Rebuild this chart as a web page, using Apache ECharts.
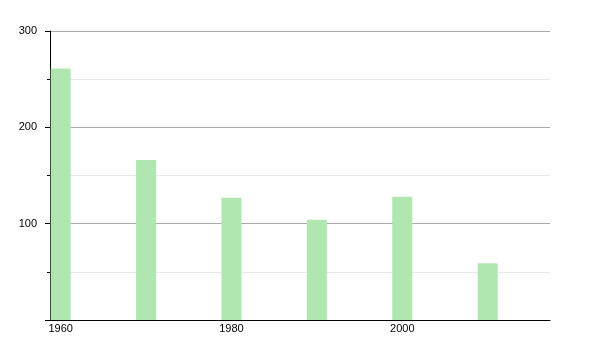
<!DOCTYPE html>
<html><head><meta charset="utf-8">
<script src="https://cdn.jsdelivr.net/npm/echarts@6/dist/echarts.min.js"></script>
<style>html,body{margin:0;padding:0;background:#fff}#c{width:600px;height:350px}</style>
</head><body><div id="c"></div>
<script>
const years = [1960, 1970, 1980, 1990, 2000, 2010];
const values = [261, 166, 127, 104, 128, 59];
const xTickLabels = [1960, 1980, 2000];
const yTicks = [0, 100, 200, 300];

const chart = echarts.init(document.getElementById('c'), null, {renderer: 'canvas'});
chart.setOption({
  animation: false,
  grid: {left: 50, right: 50, top: 31, bottom: 30, containLabel: false},
  xAxis: {
    type: 'value', min: 1958.75, max: 2017.3,
    axisLine: {show: true, lineStyle: {color: '#000', width: 1}},
    axisTick: {show: false},
    splitLine: {show: false},
    axisLabel: {customValues: xTickLabels, color: '#000', fontSize: 11, fontFamily: 'Liberation Sans, Arial, sans-serif', margin: 3, formatter: v => String(v)}
  },
  yAxis: {
    type: 'value', min: 0, max: 300, interval: 100,
    axisLine: {show: true, lineStyle: {color: '#000', width: 1}},
    axisTick: {show: true, length: 5, lineStyle: {color: '#000'}},
    minorTick: {show: true, splitNumber: 2, length: 3, lineStyle: {color: '#000'}},
    splitLine: {show: true, lineStyle: {color: '#aaaaaa', width: 1}},
    minorSplitLine: {show: true, lineStyle: {color: '#e8e8e8', width: 1}},
    axisLabel: {color: '#000', fontSize: 11, fontFamily: 'Liberation Sans, Arial, sans-serif', margin: 13,
      formatter: v => v === 0 ? '' : String(v)}
  },
  series: [{
    type: 'bar', barWidth: 20,
    itemStyle: {color: '#b0e6b0'},
    data: years.map((y, i) => [y, values[i]])
  }]
});
</script></body></html>
